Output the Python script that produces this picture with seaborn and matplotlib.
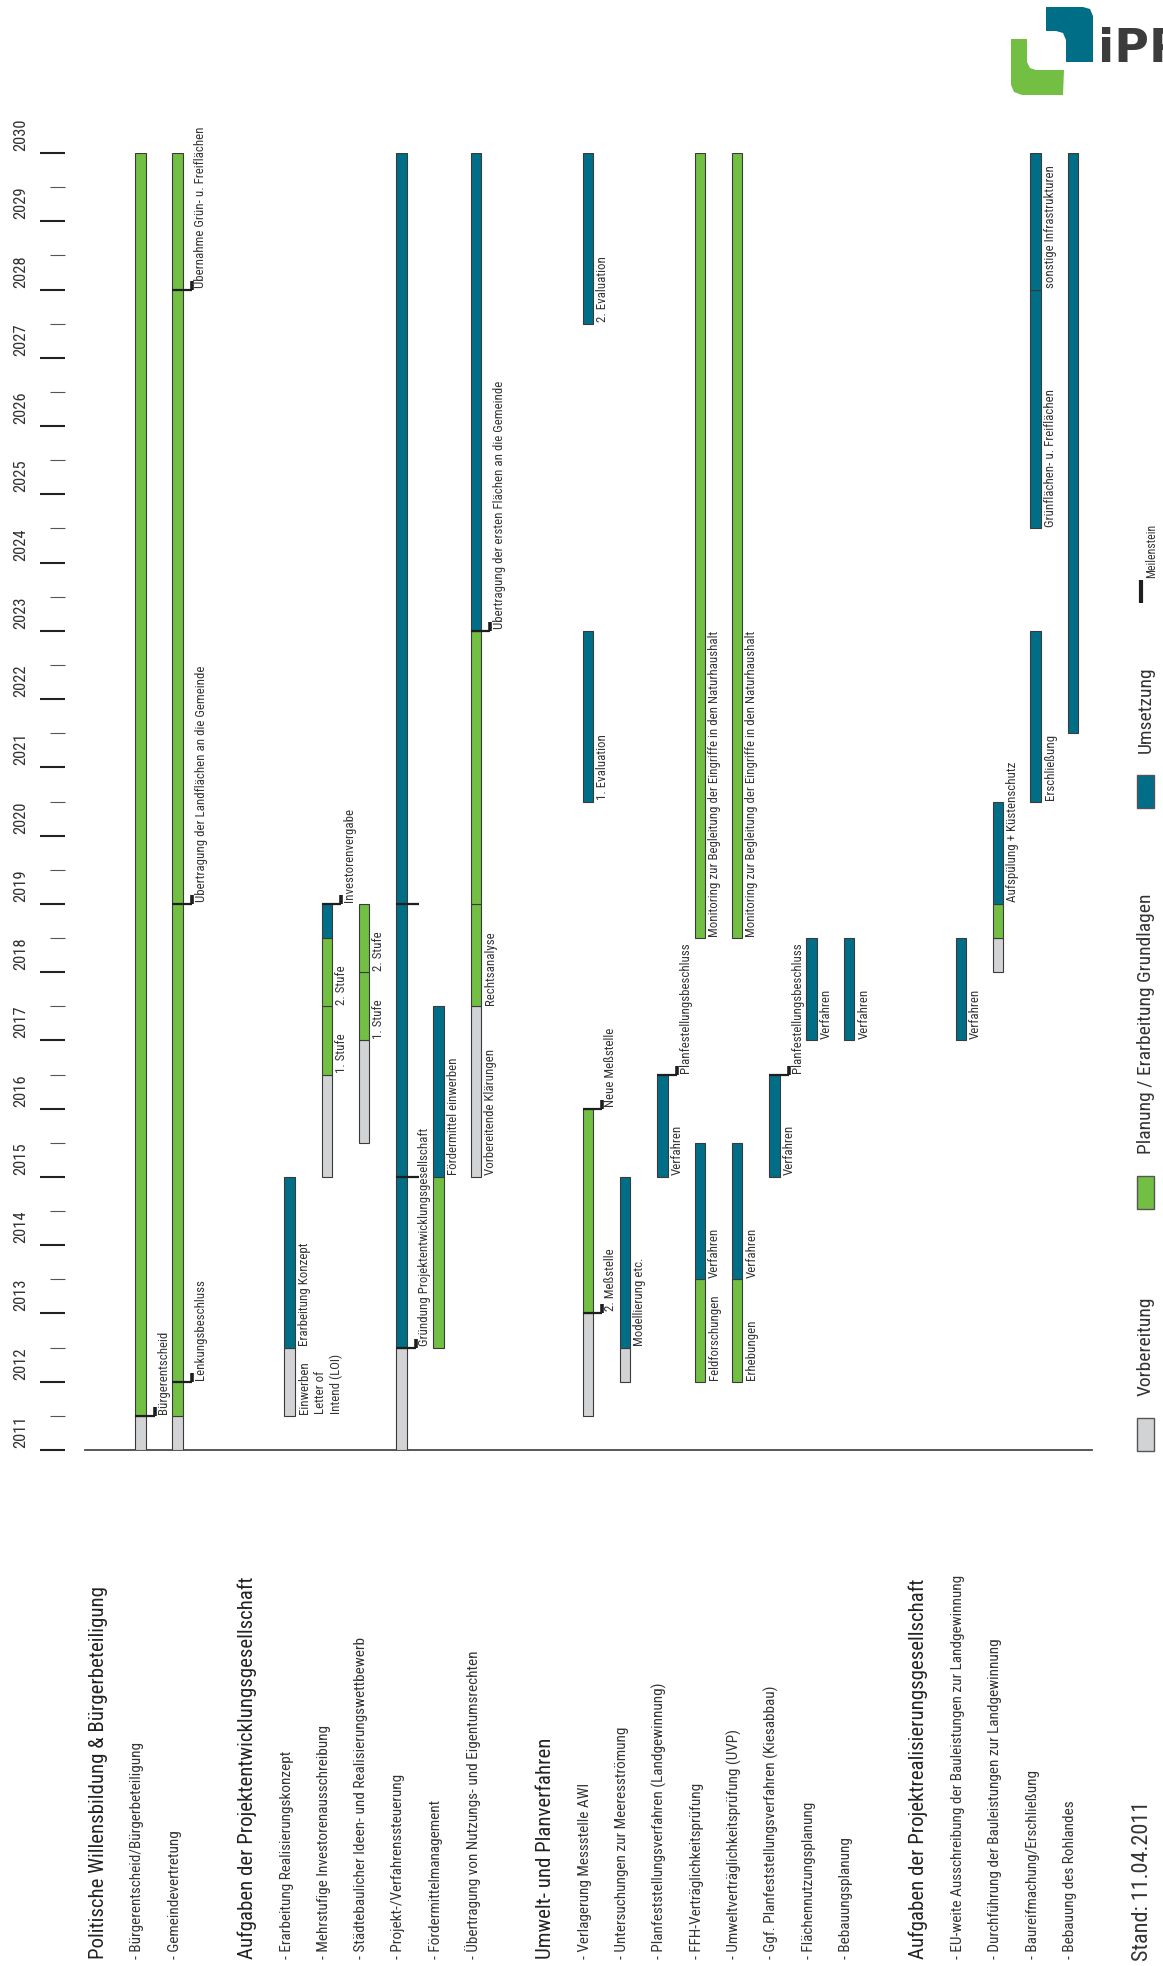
import matplotlib
matplotlib.use("Agg")
import matplotlib.pyplot as plt
from matplotlib import font_manager
from matplotlib.transforms import blended_transform_factory, offset_copy
from matplotlib.patches import Polygon, Rectangle
import seaborn as sns
import pandas as pd

sns.set_theme(style="white")
available = {f.name for f in font_manager.fontManager.ttflist}
cands = ["Liberation Sans Narrow", "DejaVu Sans Condensed", "Roboto Condensed",
         "Open Sans Condensed", "Roboto", "DejaVu Sans"]
main_font = next(f for f in cands if f in available or f == "DejaVu Sans")
plt.rcParams["font.family"] = [main_font, "DejaVu Sans"]

# ---------------- data ----------------
years = list(range(2011, 2031))
half_years = [y + 0.5 for y in range(2011, 2030)]

row_slot = [0, 1, 2, 4, 5, 6, 7, 8, 9, 10, 12, 13, 14, 15, 16, 17, 18, 19, 20,
            22, 23, 24, 25, 26]
row_text = [
    "Politische Willensbildung & Bürgerbeteiligung",
    "- Bürgerentscheid/Bürgerbeteiligung",
    "- Gemeindevertretung",
    "Aufgaben der Projektentwicklungsgesellschaft",
    "- Erarbeitung Realisierungskonzept",
    "- Mehrstufige Investorenausschreibung",
    "- Städtebaulicher Ideen- und Realisierungswettbewerb",
    "- Projekt-/Verfahrenssteuerung",
    "- Fördermittelmanagement",
    "- Übertragung von Nutzungs- und Eigentumsrechten",
    "Umwelt- und Planverfahren",
    "- Verlagerung Messstelle AWI",
    "- Untersuchungen zur Meeresströmung",
    "- Planfeststellungsverfahren (Landgewinnung)",
    "- FFH-Verträglichkeitsprüfung",
    "- Umweltverträglichkeitsprüfung (UVP)",
    "- Ggf. Planfeststellungsverfahren (Kiesabbau)",
    "- Flächennutzungsplanung",
    "- Bebauungsplanung",
    "Aufgaben der Projektrealisierungsgesellschaft",
    "- EU-weite Ausschreibung der Bauleistungen zur Landgewinnung",
    "- Durchführung der Bauleistungen zur Landgewinnung",
    "- Baureifmachung/Erschließung",
    "- Bebauung des Rohlandes",
]
row_header = [True, False, False, True, False, False, False, False, False, False,
              True, False, False, False, False, False, False, False, False,
              True, False, False, False, False]

MON = "Monitoring zur Begleitung der Eingriffe in den Naturhaushalt"
seg_slot = [1, 1,
            2, 2,
            5, 5,
            6, 6, 6, 6,
            7, 7, 7,
            8, 8,
            9, 9,
            10, 10, 10, 10,
            13, 13, 13, 13,
            14, 14,
            15,
            16, 16, 16,
            17, 17, 17,
            18,
            19,
            20,
            23,
            24, 24, 24,
            25, 25, 25,
            26]
seg_start = [2011, 2011.5,
             2011, 2011.5,
             2011.5, 2012.5,
             2015, 2016.5, 2017.5, 2018.5,
             2015.5, 2017, 2018,
             2011, 2012.5,
             2012.5, 2015,
             2015, 2017.5, 2019, 2023,
             2011.5, 2013, 2020.5, 2027.5,
             2012, 2012.5,
             2015,
             2012, 2013.5, 2018.5,
             2012, 2013.5, 2018.5,
             2015,
             2017,
             2017,
             2017,
             2018, 2018.5, 2019,
             2020.5, 2024.5, 2028,
             2021.5]
seg_end = [2011.5, 2030,
           2011.5, 2030,
           2012.5, 2015,
           2016.5, 2017.5, 2018.5, 2019,
           2017, 2018, 2019,
           2012.5, 2030,
           2015, 2017.5,
           2017.5, 2019, 2023, 2030,
           2013, 2016, 2023, 2030,
           2012.5, 2015,
           2016.5,
           2013.5, 2015.5, 2030,
           2013.5, 2015.5, 2030,
           2016.5,
           2018.5,
           2018.5,
           2018.5,
           2018.5, 2019, 2020.5,
           2023, 2028, 2030,
           2030]
seg_phase = ["V", "P",
             "V", "P",
             "V", "U",
             "V", "P", "P", "U",
             "V", "P", "P",
             "V", "U",
             "P", "U",
             "V", "P", "P", "U",
             "V", "P", "U", "U",
             "V", "U",
             "U",
             "P", "U", "P",
             "P", "U", "P",
             "U",
             "U",
             "U",
             "U",
             "V", "P", "U",
             "U", "U", "U",
             "U"]
seg_label = ["", "",
             "", "",
             "Einwerben\nLetter of\nIntend (LOI)", "Erarbeitung Konzept",
             "", "1. Stufe", "2. Stufe", "",
             "", "1. Stufe", "2. Stufe",
             "", "",
             "", "Fördermittel einwerben",
             "Vorbereitende Klärungen", "Rechtsanalyse", "", "",
             "", "", "1. Evaluation", "2. Evaluation",
             "", "Modellierung etc.",
             "Verfahren",
             "Feldforschungen", "Verfahren", MON,
             "Erhebungen", "Verfahren", MON,
             "Verfahren",
             "Verfahren",
             "Verfahren",
             "Verfahren",
             "", "", "Aufspülung + Küstenschutz",
             "Erschließung", "Grünflächen- u. Freiflächen", "sonstige Infrastrukturen",
             ""]

ms_slot = [1, 2, 2, 2, 6, 8, 8, 8, 10, 13, 13, 15, 18]
ms_year = [2011.5, 2012, 2019, 2028, 2019, 2012.5, 2015, 2019, 2023, 2013, 2016,
           2016.5, 2016.5]
ms_label = ["Bürgerentscheid", "Lenkungsbeschluss",
            "Übertragung der Landflächen an die Gemeinde",
            "Übernahme Grün- u. Freiflächen", "Investorenvergabe",
            "Gründung Projektentwicklungsgesellschaft", "", "",
            "Übertragung der ersten Flächen an die Gemeinde",
            "2. Meßstelle", "Neue Meßstelle",
            "Planfestellungsbeschluss", "Planfestellungsbeschluss"]

phase_names = {"V": "Vorbereitung", "P": "Planung / Erarbeitung Grundlagen",
               "U": "Umsetzung"}
phase_colors = {"V": "#d2d3d5", "P": "#72bf44", "U": "#006e87"}

segments = pd.DataFrame({"slot": seg_slot, "start": seg_start, "end": seg_end,
                         "phase": seg_phase, "label": seg_label})

# ---------------- layout ----------------
W, H = 1163, 1966
fig = plt.figure(figsize=(W / 100, H / 100), dpi=100)
fig.patch.set_facecolor("white")

AX_L, AX_R, AX_B, AX_T = 85, 1092, 1450, 153     # pixel extents
SLOT0, SLOT_PX = 103.0, 37.3
ax = fig.add_axes([AX_L / W, 1 - AX_B / H, (AX_R - AX_L) / W, (AX_B - AX_T) / H],
                  zorder=2)
ax.patch.set_alpha(0)
ax.set_xlim((AX_L - SLOT0) / SLOT_PX, (AX_R - SLOT0) / SLOT_PX)
ax.set_ylim(2011, 2030)
YPX = (AX_B - AX_T) / 19.0

pax = fig.add_axes([0, 0, 1, 1], zorder=1)
pax.set_xlim(0, W)
pax.set_ylim(H, 0)
pax.axis("off")
pax.patch.set_alpha(0)


def dx(px):
    return px / SLOT_PX


def dy(px):
    return px / YPX


BAR_W = dx(10.5)
EDGE = "#3a3a3a"
TXT = "#333333"
LBL_FS = 9.3

# bars
for ph in ["V", "P", "U"]:
    sub = segments[segments["phase"] == ph]
    ax.bar(sub["slot"], sub["end"] - sub["start"], bottom=sub["start"],
           width=BAR_W, color=phase_colors[ph], edgecolor=EDGE, linewidth=0.8,
           zorder=3, label=phase_names[ph])

# segment labels
for _, r in segments.iterrows():
    if r["label"]:
        ax.text(r["slot"] + BAR_W / 2 + dx(3), r["start"] + dy(1.5), r["label"],
                rotation=90, rotation_mode="anchor", ha="left", va="top",
                fontsize=LBL_FS, color=TXT, linespacing=1.3, clip_on=False,
                zorder=5)

# milestones
for s, yv, lab in zip(ms_slot, ms_year, ms_label):
    ext = 12 if lab == "" else 9
    ax.plot([s - BAR_W / 2, s + BAR_W / 2 + dx(ext)], [yv, yv], color="#1e1e1e",
            lw=1.6, solid_capstyle="butt", zorder=4, clip_on=False)
    if lab:
        xm = s + BAR_W / 2 + dx(9)
        ax.plot([xm, xm], [yv, yv + dy(9)], color="#1e1e1e", lw=2.6,
                solid_capstyle="butt", zorder=4, clip_on=False)
        ax.text(xm + dx(2), yv + dy(2), lab, rotation=90, rotation_mode="anchor",
                ha="left", va="top", fontsize=LBL_FS, color=TXT, clip_on=False,
                zorder=5)

# axes styling: time axis
for sp in ["top", "right", "left"]:
    ax.spines[sp].set_visible(False)
ax.spines["bottom"].set_color("#4a4a4a")
ax.spines["bottom"].set_linewidth(1.3)
ax.spines["left"].set_position(("outward", 14.4))
ax.set_xticks([])
ax.set_yticks(years)
ax.set_yticks(half_years, minor=True)
ax.tick_params(axis="y", which="major", left=True, direction="out", length=18,
               width=1.5, color="#222222", labelleft=False)
ax.tick_params(axis="y", which="minor", left=True, direction="out", length=10.8,
               width=0.8, color="#555555")
ax.grid(False)

# year labels
yr_tr = blended_transform_factory(pax.transData, ax.transData)
for yv in years:
    ax.text(21, yv + dy(2), str(yv), transform=yr_tr, rotation=90,
            rotation_mode="anchor", ha="left", va="center", fontsize=12,
            color=TXT, clip_on=False)

# row labels
row_tr = blended_transform_factory(ax.transData, pax.transData)
for s, t, hd in zip(row_slot, row_text, row_header):
    tr = offset_copy(row_tr, fig=fig, x=-5 if hd else -3, y=0, units="dots")
    ax.text(s, 1959, t, transform=tr, rotation=90, rotation_mode="anchor",
            ha="left", va="center", fontsize=15 if hd else 11,
            color="#222222" if hd else TXT, clip_on=False)

# legend (rotated, bottom right)
leg_box_bottom = [1451, 1209, 808]
for ph, yb in zip(["V", "P", "U"], leg_box_bottom):
    pax.add_patch(Rectangle((1137, yb - 33), 17, 33, facecolor=phase_colors[ph],
                            edgecolor="#555555", lw=1.0))
    pax.text(1146, yb - 55, phase_names[ph], rotation=90, rotation_mode="anchor",
             ha="left", va="center", fontsize=14, color=TXT)
pax.plot([1141, 1141], [603, 580], color="#1e1e1e", lw=3, solid_capstyle="butt")
pax.text(1145, 578, "Meilenstein", rotation=90, rotation_mode="anchor",
         ha="left", va="top", fontsize=8.5, color=TXT)

pax.text(1142, 1961, "Stand: 11.04.2011", rotation=90, rotation_mode="anchor",
         ha="left", va="center", fontsize=16, color=TXT)

# logo (top right, cut by the page edge)
teal = Polygon([(1046, 7), (1083, 7), (1090, 9), (1093, 16), (1093, 62),
                (1066, 62), (1066, 40), (1063, 33), (1056, 31), (1046, 31)],
               closed=True, facecolor="#006e87", edgecolor="none")
green = Polygon([(1011, 39), (1027, 39), (1027, 62), (1030, 68), (1036, 70),
                 (1064, 70), (1063, 95), (1022, 95), (1014, 92), (1011, 85)],
                closed=True, facecolor="#72bf44", edgecolor="none")
pax.add_patch(teal)
pax.add_patch(green)
pax.text(1098, 62, "iPP", fontsize=34, fontweight="bold", color="#3c3c3c",
         ha="left", va="baseline", family=["DejaVu Sans"])

fig.savefig("out.png", dpi=100, facecolor="white")
